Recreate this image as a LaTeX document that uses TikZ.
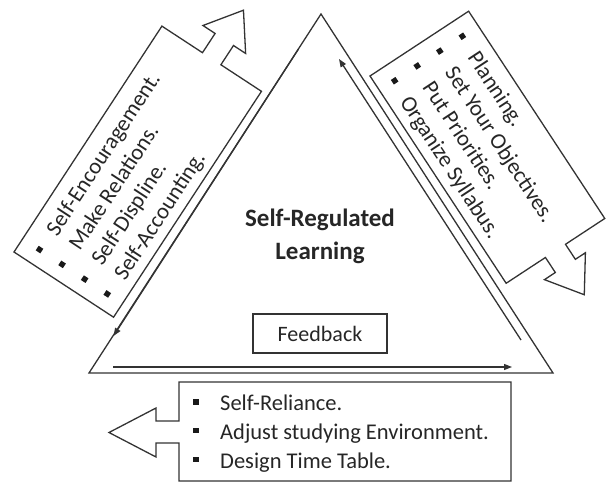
\documentclass[tikz,border=0pt]{standalone}
\usepackage{fontspec}
\setmainfont{Carlito}
\usetikzlibrary{arrows.meta}

\begin{document}
\begin{tikzpicture}[
  x=1pt, y=1pt,
  line join=miter,
  >={Triangle[length=8pt,width=6pt]},
  outline/.style={
    draw=black!80,
    line width=1.3pt
  },
  flow/.style={
    ->,
    draw=black!80,
    line width=1.3pt
  },
  item/.style={
    anchor=base west,
    inner sep=0pt,
    text=black!85,
    font=\fontsize{22.5}{27}\selectfont
  },
  dot/.style={
    rectangle,
    fill=black!90,
    minimum size=5.5pt,
    inner sep=0pt
  },
  title/.style={
    align=center,
    text=black!85,
    font=\bfseries\fontsize{25}{33}\selectfont
  },
  tag/.style={
    rectangle,
    draw=black!80,
    line width=1.3pt,
    minimum width=134pt,
    minimum height=39pt,
    text=black!85,
    font=\fontsize{22}{26}\selectfont
  }
]

\useasboundingbox (0,0) rectangle (608,483);

% the triangle
\coordinate (A) at (321,469);
\coordinate (B) at (89,110);
\coordinate (C) at (553,110);
\draw[outline] (A) -- (B) -- (C) -- cycle;

% loop of arrows along the inner sides
\coordinate (L1) at (298.5,434);
\coordinate (L2) at (113.5,147);
\coordinate (R1) at (521,143);
\coordinate (R2) at (339,424);
\coordinate (F1) at (113,116);
\coordinate (F2) at (512,116);
\draw[flow] (L1) -- (L2);
\draw[flow] (R1) -- (R2);
\draw[flow] (F1) -- (F2);

\node[title] (SRL) at (320,247) {Self-Regulated\\Learning};
\node[tag] (FB) at (320,149.5) {Feedback};

% left block arrow, pointing up
\begin{scope}[shift={(14,231)}, rotate=56.78]
  \draw[outline] (0,0) -- (270,0) -- (270,-48.5) -- (293,-48.5) -- (293,-34)
    -- (328,-59.5) -- (293,-85) -- (293,-70.5) -- (270,-70.5) -- (270,-119)
    -- (0,-119) -- cycle;
  \node[dot, transform shape] (LB1) at (16,-20) {};
  \node[dot, transform shape] (LB2) at (16,-47) {};
  \node[dot, transform shape] (LB3) at (16,-74) {};
  \node[dot, transform shape] (LB4) at (16,-101) {};
  \node[item, transform shape] (LT1) at (36,-28) {Self-Encouragement.};
  \node[item, transform shape] (LT2) at (36,-55) {Make Relations.};
  \node[item, transform shape] (LT3) at (36,-82) {Self-Displine.};
  \node[item, transform shape] (LT4) at (36,-109) {Self-Accounting.};
\end{scope}

% right block arrow, pointing down
\begin{scope}[shift={(370,407)}, rotate=-56.7]
  \draw[outline] (0,0) -- (248,0) -- (248,47) -- (266,47) -- (266,34)
    -- (300.5,59) -- (266,83) -- (266,71) -- (248,71) -- (248,118)
    -- (0,118) -- cycle;
  \node[dot, transform shape] (RB1) at (17.5,99) {};
  \node[dot, transform shape] (RB2) at (17.5,72) {};
  \node[dot, transform shape] (RB3) at (17.5,45) {};
  \node[dot, transform shape] (RB4) at (17.5,18) {};
  \node[item, transform shape] (RT1) at (38,91) {Planning.};
  \node[item, transform shape] (RT2) at (38,64) {Set Your Objectives.};
  \node[item, transform shape] (RT3) at (38,37) {Put Priorities.};
  \node[item, transform shape] (RT4) at (38,10) {Organize Syllabus.};
\end{scope}

% bottom block arrow, pointing left
\draw[outline] (179,101) -- (511,101) -- (511,2) -- (179,2) -- (179,40)
  -- (156,40) -- (156,26) -- (109,50.5) -- (156,75) -- (156,62) -- (179,62)
  -- cycle;
\node[dot] (BB1) at (196,81) {};
\node[dot] (BB2) at (196,52.5) {};
\node[dot] (BB3) at (196,23.5) {};
\node[item] (BT1) at (220,73) {Self-Reliance.};
\node[item] (BT2) at (220,44) {Adjust studying Environment.};
\node[item] (BT3) at (220,15) {Design Time Table.};

\end{tikzpicture}
\end{document}
